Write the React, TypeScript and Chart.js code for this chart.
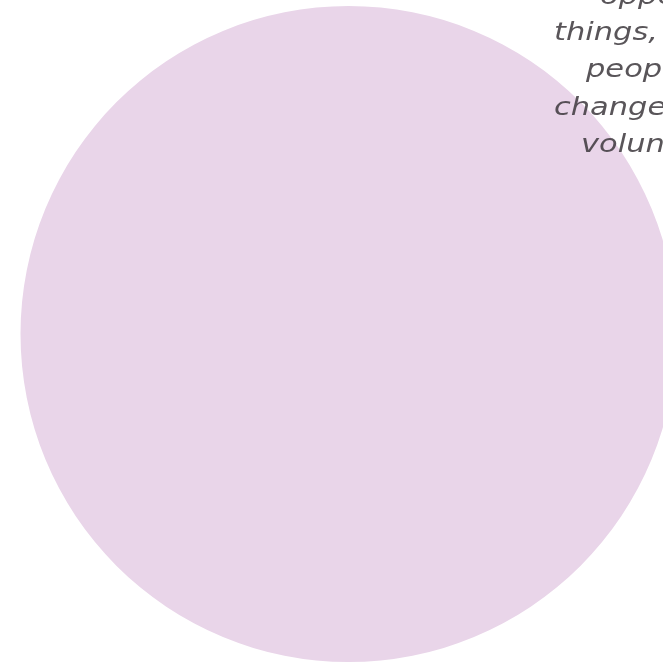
import React, { useEffect, useRef } from "react";
import { Chart, registerables } from "chart.js";

Chart.register(...registerables);

const labels = ["Volunteering"];
const values = [100];
const sliceColors = ["#E9D5E9"];
const textLines = [
  "opportunity to try new",
  "things, meet new",
  "people, and make a",
  "change through",
  "volunteering.",
];
const textLeft = [600, 554, 586, 554, 581];
const textBaseline = [4, 40, 77, 115, 152];

const textPlugin = {
  id: "sideText",
  afterDraw(chart: any) {
    const ctx = chart.ctx;
    ctx.save();
    ctx.font = "italic 300 25px 'DejaVu Sans'";
    ctx.fillStyle = "rgba(60,55,60,0.85)";
    ctx.textAlign = "left";
    ctx.textBaseline = "alphabetic";
    const sx = 1.22;
    textLines.forEach((t, i) => {
      ctx.save();
      ctx.translate(textLeft[i], textBaseline[i]);
      ctx.scale(sx, 1);
      ctx.fillText(t, 0, 0);
      ctx.restore();
    });
    ctx.restore();
  },
};

export default function App() {
  const ref = useRef<HTMLCanvasElement>(null);
  useEffect(() => {
    if (!ref.current) return;
    const chart = new Chart(ref.current, {
      type: "pie",
      data: {
        labels,
        datasets: [
          {
            data: values,
            backgroundColor: sliceColors,
            borderWidth: 0,
          },
        ],
      },
      options: {
        animation: false,
        responsive: false,
        layout: { padding: { left: 20.5, right: 23.5, top: 6, bottom: 0 } },
        plugins: { legend: { display: false }, tooltip: { enabled: false } },
      },
      plugins: [textPlugin],
    });
    return () => chart.destroy();
  }, []);
  return (
    <div style={{ position: "fixed", left: 0, top: 0, width: 663, height: 662, overflow: "hidden", background: "#fff" }}>
      <canvas ref={ref} width={700} height={662} style={{ width: 700, height: 662, display: "block" }} />
    </div>
  );
}
